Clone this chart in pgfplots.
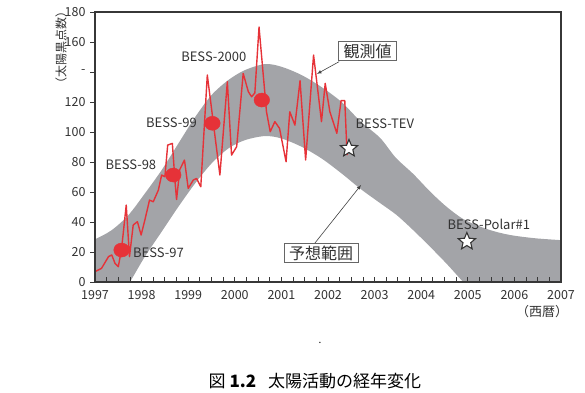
\documentclass[border=0pt]{standalone}
\usepackage{pgfplots}
\pgfplotsset{compat=1.18}
\usepgfplotslibrary{fillbetween}
\usepackage{fontspec}
\setmainfont{Noto Sans CJK JP}
\definecolor{bandgray}{RGB}{163,164,168}
\definecolor{obsred}{RGB}{230,50,56}
\definecolor{txt}{RGB}{50,50,50}
\definecolor{axc}{RGB}{55,55,55}
\pgfdeclareplotmark{fstar}{%
  \pgfpathmoveto{\pgfpointpolar{90}{\pgfplotmarksize}}%
  \pgfpathlineto{\pgfpointpolar{126}{0.45\pgfplotmarksize}}%
  \pgfpathlineto{\pgfpointpolar{162}{\pgfplotmarksize}}%
  \pgfpathlineto{\pgfpointpolar{198}{0.45\pgfplotmarksize}}%
  \pgfpathlineto{\pgfpointpolar{234}{\pgfplotmarksize}}%
  \pgfpathlineto{\pgfpointpolar{270}{0.45\pgfplotmarksize}}%
  \pgfpathlineto{\pgfpointpolar{306}{\pgfplotmarksize}}%
  \pgfpathlineto{\pgfpointpolar{342}{0.45\pgfplotmarksize}}%
  \pgfpathlineto{\pgfpointpolar{18}{\pgfplotmarksize}}%
  \pgfpathlineto{\pgfpointpolar{54}{0.45\pgfplotmarksize}}%
  \pgfpathclose
  \pgfusepathqfillstroke
}
\pgfplotsset{
  common/.style={
    scale only axis, width=466pt, height=270pt,
    at={(0pt,0pt)}, anchor=south west,
    xmin=1997, xmax=2007, ymin=0, ymax=180,
  },
}
\begin{document}
\begin{tikzpicture}
\path (-95pt,-110pt) rectangle (490pt,282pt);
% main axis: data
\begin{axis}[
  common,
  xtick=\empty, ytick=\empty,
  axis line style={draw=none},
  clip=true,
]
\addplot[name path=U, draw=none, smooth] coordinates {
(1996.8,27) (1997.0,28.5) (1997.36,34.6) (1997.72,44.7) (1998.07,59) (1998.43,74.6)
(1998.79,92.4) (1999.15,110) (1999.5,124.6) (1999.86,134.6) (2000.22,141.3) (2000.65,145.3)
(2001.0,143.5) (2001.43,138) (2001.86,130) (2002.29,120) (2002.7,107) (2003.12,96)
(2003.45,83) (2003.83,72) (2004.2,60) (2004.55,50) (2004.9,42) (2005.26,37)
(2005.6,33.5) (2005.97,31) (2006.5,29) (2007.2,27.5)
};
\addplot[name path=L, draw=none, smooth] coordinates {
(1996.8,-50) (1997.2,-28) (1997.5,-12) (1997.75,0) (1998.07,16.9) (1998.43,33.5)
(1998.79,50.2) (1999.15,65.8) (1999.5,79) (1999.86,89) (2000.22,94.6) (2000.65,97.3)
(2001.0,95.7) (2001.43,90.2) (2001.86,82.4) (2002.29,72.4) (2002.7,62) (2003.1,53)
(2003.47,44.7) (2003.83,34.5) (2004.19,23.5) (2004.55,12) (2004.9,0) (2005.3,-14)
(2006.0,-35) (2007.2,-60)
};
\addplot[bandgray, draw=none] fill between[of=U and L];
% observed sunspot number
\addplot[obsred, line width=1.4pt, line join=round] coordinates {
(1997.0,6.9) (1997.14,9.1) (1997.29,16.9) (1997.36,18) (1997.43,12.4) (1997.5,10.2)
(1997.57,22) (1997.67,51.3) (1997.74,16.9) (1997.82,38) (1997.91,40.2) (1997.99,31.3)
(1998.07,41.3) (1998.17,54.6) (1998.25,53.5) (1998.36,61.3) (1998.43,71.3) (1998.5,70.2)
(1998.56,91.3) (1998.66,92.4) (1998.72,66) (1998.75,55) (1998.82,75) (1998.92,81.3)
(1999.0,62.4) (1999.11,68) (1999.18,69) (1999.27,63.5) (1999.41,138) (1999.68,71.3)
(1999.84,133.5) (1999.93,84.6) (2000.04,90.2) (2000.18,139) (2000.29,126.9) (2000.36,123.5)
(2000.43,126) (2000.52,170) (2000.68,113.5) (2000.76,100.2) (2000.86,106.9) (2000.96,102.4)
(2001.1,80.2) (2001.18,113.5) (2001.29,104.6) (2001.4,134.2) (2001.52,81.3) (2001.69,151.3)
(2001.78,128) (2001.86,106.9) (2001.94,132.4) (2002.04,113.5) (2002.19,99.1) (2002.28,120.9)
(2002.36,120.9) (2002.41,84.6)
};
% BESS flights
\addplot[only marks, mark=*, mark size=7.8pt, color=obsred,
  mark options={fill=obsred, draw=obsred, yscale=0.9}] coordinates {
(1997.57,21.3) (1998.68,71.3) (1999.52,105.8) (2000.58,121.3)
};
\addplot[only marks, mark=fstar, mark size=9pt,
  mark options={fill=white, draw=black!80, line width=1.1pt}] coordinates {
(2002.45,89) (2004.98,27)
};
% labels
\begin{scope}[every node/.style={text=txt, font=\fontsize{13}{15}\selectfont, inner sep=0pt}]
\node[anchor=west] at (axis cs:1997.815,19.7) {BESS-97};
\node at (axis cs:1997.77,78.3) {BESS-98};
\node at (axis cs:1998.64,106.3) {BESS-99};
\node at (axis cs:1999.55,150) {BESS-2000};
\node at (axis cs:2003.22,105.3) {BESS-TEV};
\node at (axis cs:2005.45,38.7) {BESS-Polar\#1};
\end{scope}
\draw[-latex, black!75, line width=0.6pt] (axis cs:2002.24,146.9) -- (axis cs:2001.76,138.7);
\draw[-latex, black!75, line width=0.6pt] (axis cs:2001.72,26) -- (axis cs:2002.71,64.7);
\node[draw=black!60, fill=white, line width=0.9pt, inner xsep=5pt, inner ysep=2pt,
  text=txt, font=\fontsize{16}{18}\selectfont] at (axis cs:2002.85,154) {観測値};
\node[draw=black!60, fill=white, line width=0.9pt, inner xsep=5pt, inner ysep=2pt,
  text=txt, font=\fontsize{16}{18}\selectfont] at (axis cs:2001.85,19.3) {予想範囲};
\end{axis}
% x ticks (inside) and labels
\begin{axis}[
  common,
  axis line style={draw=none},
  ytick=\empty,
  xtick={1997,1998,1999,2000,2001,2002,2003,2004,2005,2006,2007},
  xticklabels={1997,1998,1999,2000,2001,2002,2003,2004,2005,2006,2007},
  minor x tick num=3,
  xtick pos=bottom,
  tick align=inside,
  major tick length=5pt, minor tick length=5pt,
  tick style={axc, line width=0.9pt},
  ticklabel style={font=\fontsize{12.5}{14}\selectfont, text=txt},
  xticklabel style={yshift=-5pt},
]
\end{axis}
% y ticks (outside) and labels
\begin{axis}[
  common,
  axis line style={draw=none},
  xtick=\empty,
  ytick={0,20,40,60,80,100,120,140,160,180},
  yticklabels={0,20,40,60,80,100,120,-,160,180},
  ytick pos=left,
  tick align=outside,
  major tick length=5pt,
  tick style={axc, line width=0.9pt},
  ticklabel style={font=\fontsize{12.5}{14}\selectfont, text=txt},
  yticklabel style={xshift=-1pt},
]
\end{axis}
\draw[axc, line width=1.5pt] (0pt,270pt) -- (466pt,270pt) -- (466pt,0pt);
\draw[axc, line width=2.2pt, line cap=rect] (0pt,270pt) -- (0pt,0pt) -- (466pt,0pt);
\node[rotate=90, text=txt, font=\fontsize{12}{14}\selectfont] at (-34pt,234.5pt) {（太陽黒点数）};
\node[text=txt, font=\fontsize{13}{15}\selectfont] at (447pt,-30pt) {（西暦）};
\node at (225pt,-61pt) {.};
\node[anchor=west, font=\fontsize{17}{19}\selectfont] at (110pt,-99pt) {図\hspace{4pt}\textbf{1.2}\hspace{12pt}太陽活動の経年変化};
\end{tikzpicture}
\end{document}
